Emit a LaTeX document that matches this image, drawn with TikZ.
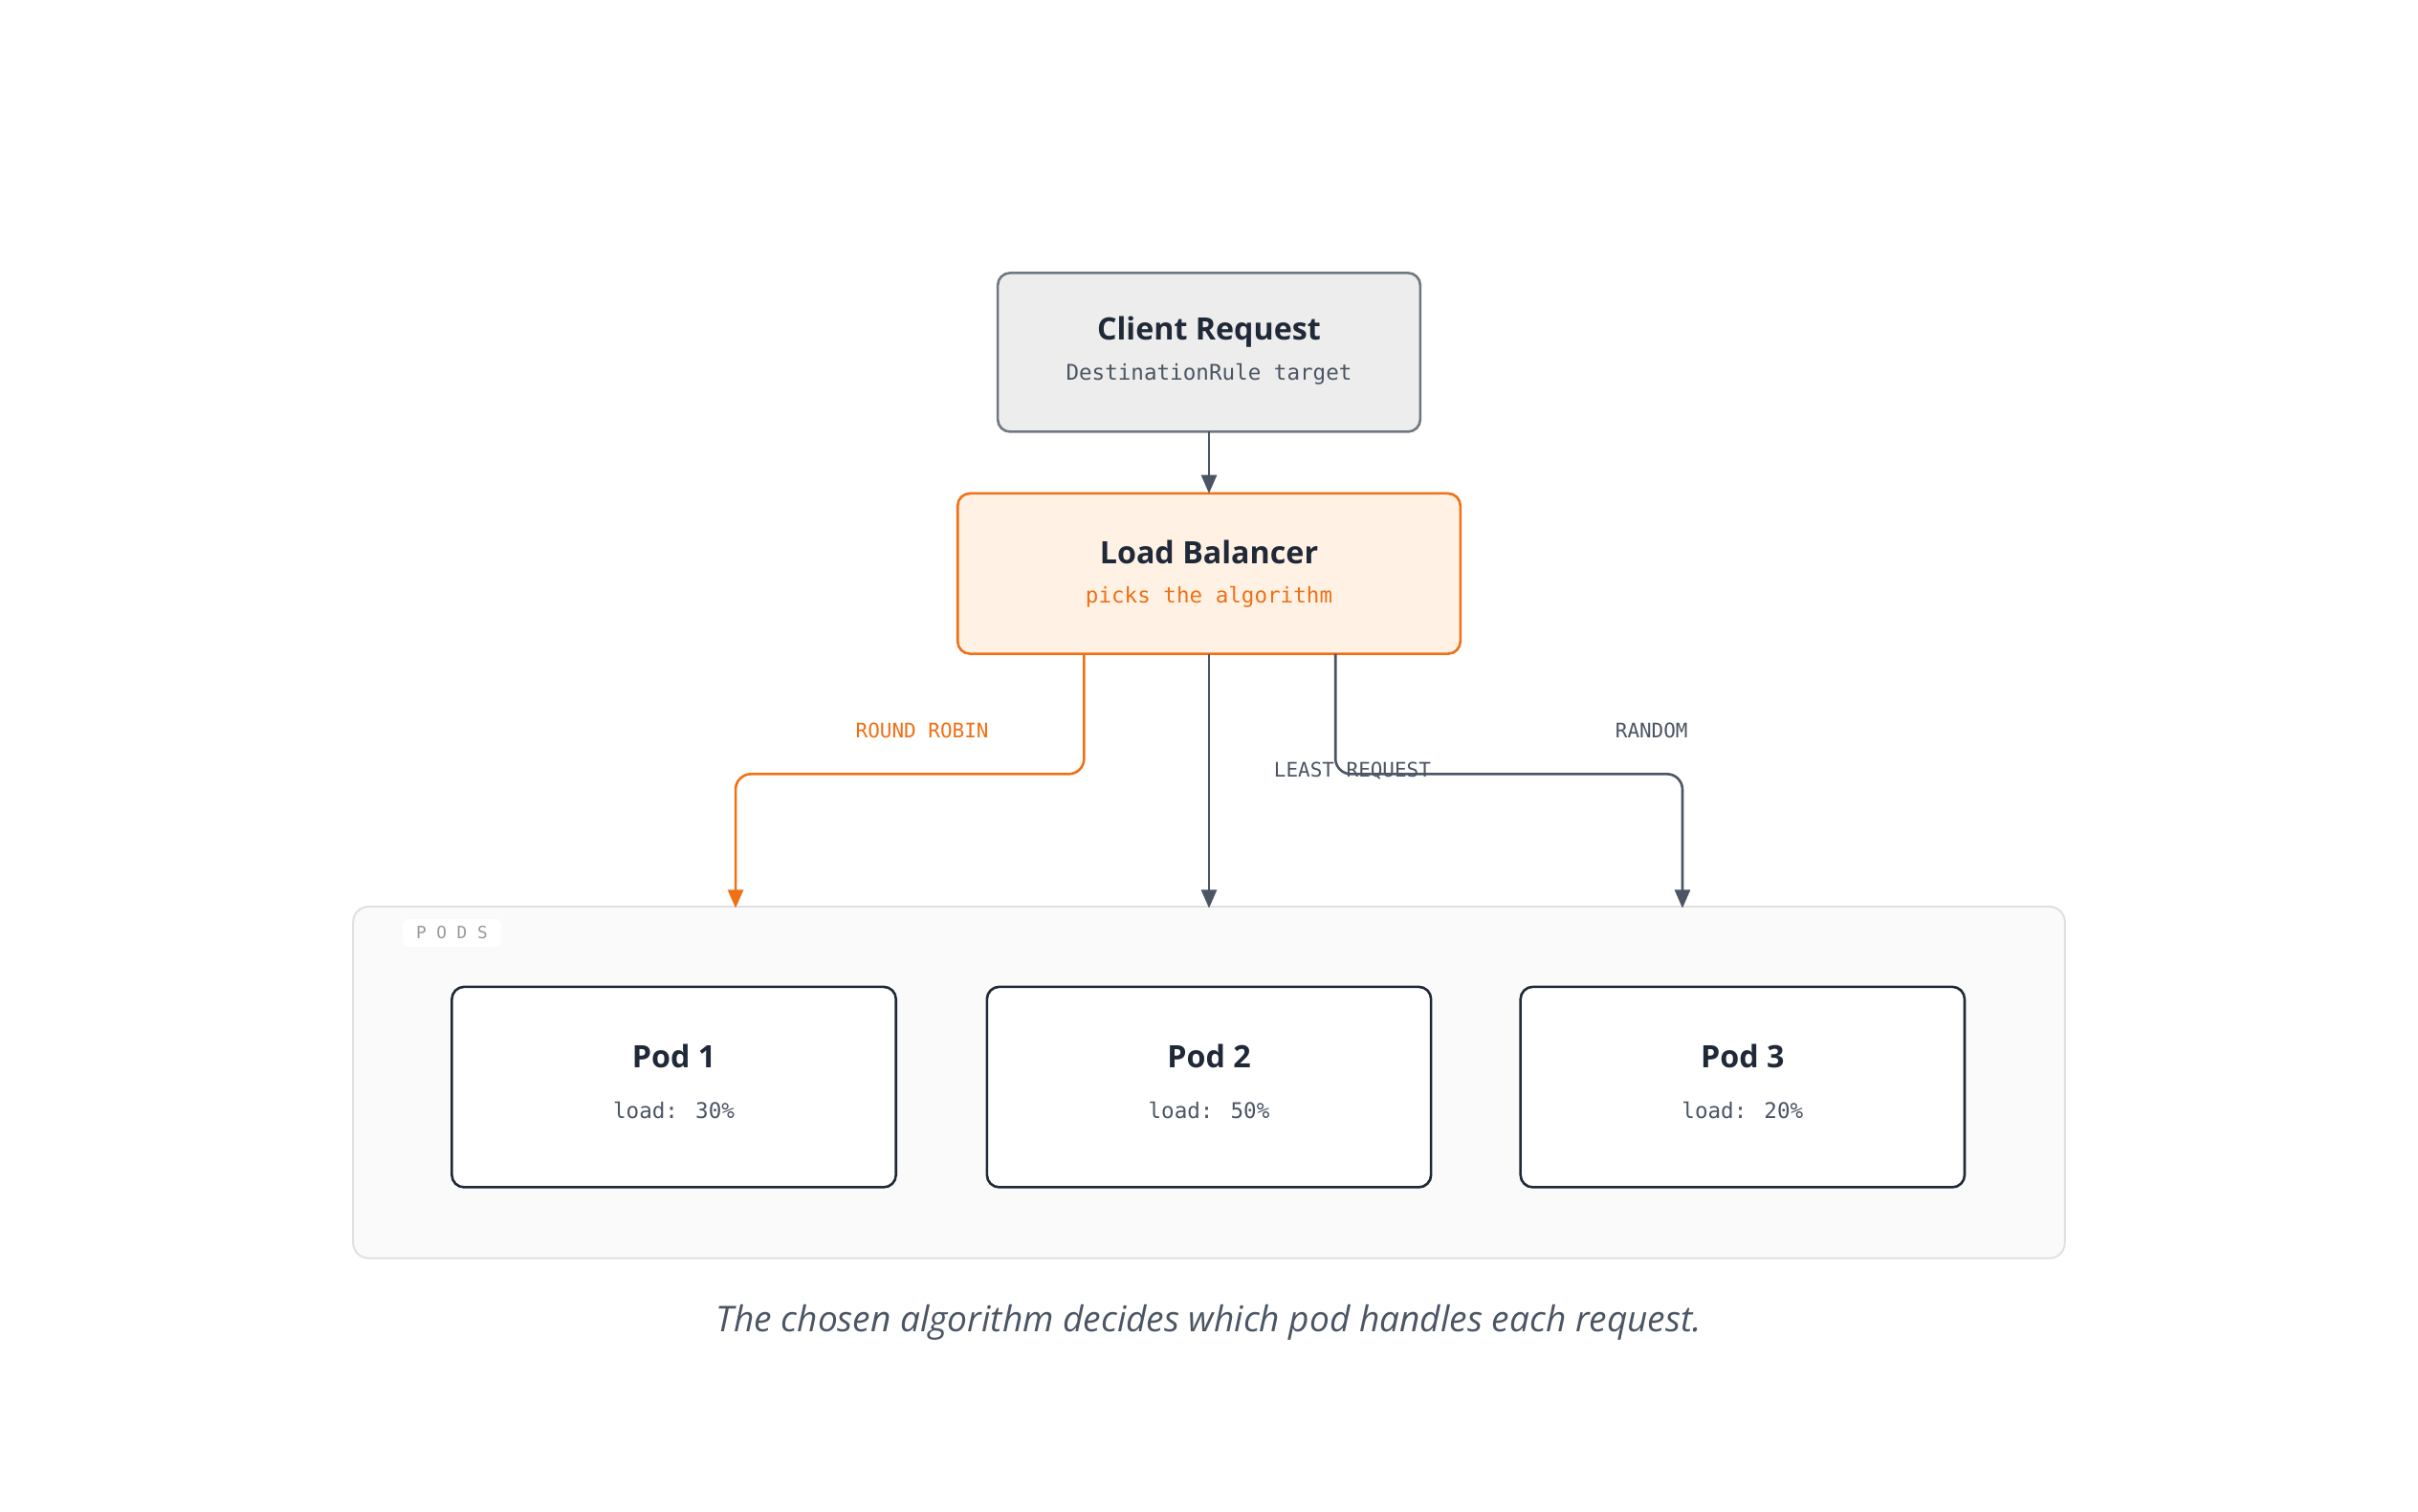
\documentclass[tikz,border=0pt]{standalone}
\usepackage{fontspec}
\setmainfont{Open Sans}
\newfontfamily\monof{DejaVu Sans Mono}
\usetikzlibrary{arrows.meta}
\definecolor{ink}{HTML}{1F2937}
\definecolor{gr}{HTML}{4B5563}
\definecolor{org}{HTML}{F07015}
\begin{document}
\begin{tikzpicture}[x=0.5pt,y=-0.5pt,
 box/.style={draw, rounded corners=4pt, line width=0.8pt},
 ttl/.style={font=\bfseries\fontsize{10}{12}\selectfont, text=ink},
 sub/.style={font=\monof\fontsize{7}{8}\selectfont, text=gr},
 lab/.style={font=\monof\fontsize{6.5}{8}\selectfont},
 arr/.style={line width=0.8pt, rounded corners=5pt, -{Triangle[length=6pt,width=5pt]}}]
\useasboundingbox (0,0) rectangle (1568,980);
\fill[white] (0,0) rectangle (1568,980);
% container
\draw[rounded corners=5pt, fill=black!2, draw=black!12, line width=0.6pt] (229,588) rectangle (1339,816);
\node[fill=white, rounded corners=2pt, minimum width=32pt, minimum height=9pt, inner sep=0pt, font=\monof\fontsize{5.5}{6}\selectfont, text=black!40] (podslbl) at (293,605) {P O D S};
% client
\draw[box, fill=black!7, draw=gr!80] (647,177) rectangle (921,280);
\node[ttl] (ct) at (784,215) {Client Request};
\node[sub] (cs) at (784,243) {DestinationRule target};
\coordinate (cb) at (784,280);
% lb
\draw[box, fill=orange!10, draw=org] (621,320) rectangle (947,424);
\node[ttl] (lt) at (784,358) {Load Balancer};
\node[sub, text=org] (ls) at (784,387) {picks the algorithm};
\coordinate (lbt) at (784,320);
\coordinate (l1) at (703,424);
\coordinate (l2) at (784,424);
\coordinate (l3) at (866,424);
% pods
\foreach \x/\n/\l in {437/1/30,784/2/50,1130/3/20}{
 \draw[box, fill=white, draw=ink] (\x-144,640) rectangle (\x+144,770);
 \node[ttl] (p\n) at (\x,685) {Pod \n};
 \node[sub] (pl\n) at (\x,720) {load: \l\%};
}
\coordinate (t1) at (477,589);
\coordinate (t2) at (784,589);
\coordinate (t3) at (1091,589);
\draw[arr, gr] (cb) -- (lbt);
\draw[arr, org] (l1) |- (590,502) -| (t1);
\draw[arr, gr] (l2) -- (t2);
\draw[arr, gr] (l3) |- (980,502) -| (t3);
\node[lab, text=org] (rr) at (598,474) {ROUND ROBIN};
\node[lab, text=gr] (lr) at (877,500) {LEAST REQUEST};
\node[lab, text=gr] (rd) at (1071,474) {RANDOM};
\node[font=\itshape\fontsize{11.5}{14}\selectfont, text=gr] (cap) at (784,858) {The chosen algorithm decides which pod handles each request.};
\end{tikzpicture}
\end{document}
